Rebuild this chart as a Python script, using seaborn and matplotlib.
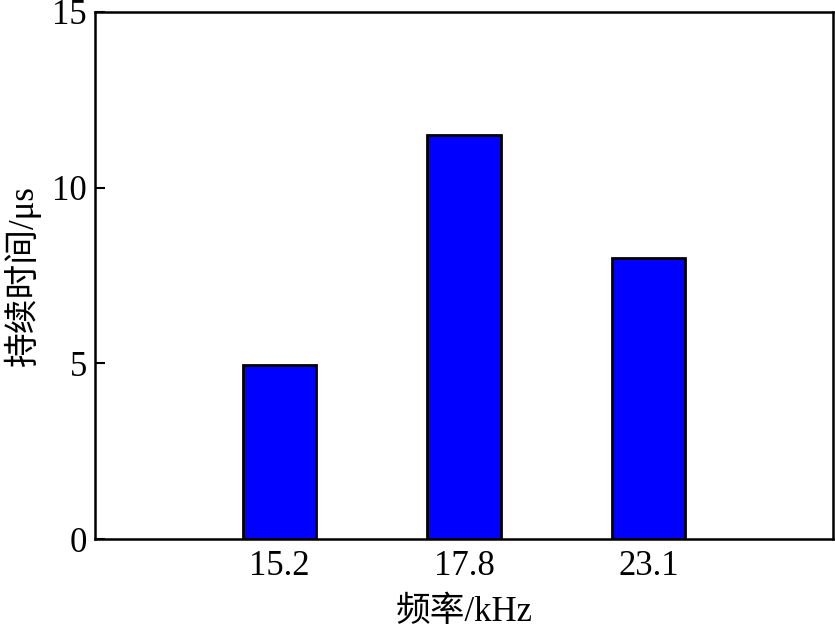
import matplotlib
matplotlib.use("Agg")
import matplotlib.pyplot as plt
import seaborn as sns
import pandas as pd

categories = ["15.2", "17.8", "23.1"]
durations = [4.95, 11.5, 8.0]
y_ticks = [0, 5, 10, 15]

sns.set_theme(style="ticks")
plt.rcParams['font.family'] = ['Liberation Serif', 'Noto Sans CJK SC']
plt.rcParams['axes.unicode_minus'] = False
plt.rcParams['text.color'] = 'black'
plt.rcParams['axes.labelcolor'] = 'black'
plt.rcParams['xtick.color'] = 'black'
plt.rcParams['ytick.color'] = 'black'

df = pd.DataFrame({"freq": categories, "dur": durations})

fig = plt.figure(figsize=(8.35, 6.28), dpi=100)
ax = fig.add_axes([0.1138, 0.1417, 0.8838, 0.8393])
sns.barplot(data=df, x="freq", y="dur", ax=ax, color="#0000FF", saturation=1,
            width=0.4, edgecolor="black", linewidth=2)

ax.set_xlim(-1.0, 3.0)
ax.set_ylim(0, 15)
ax.set_yticks(y_ticks)
ax.tick_params(axis='y', direction='in', length=7, width=1.5, labelsize=25, pad=6,
               labelcolor='black', color='black')
ax.tick_params(axis='x', length=0, labelsize=25, pad=8, labelcolor='black')
for s in ax.spines.values():
    s.set_visible(True)
    s.set_linewidth(1.8)
    s.set_color("black")
ax.set_xlabel("频率/kHz", fontsize=25, labelpad=9, color='black')
ax.set_ylabel("持续时间/μs", fontsize=25, labelpad=8, color='black')

fig.savefig("out.png", dpi=100)
